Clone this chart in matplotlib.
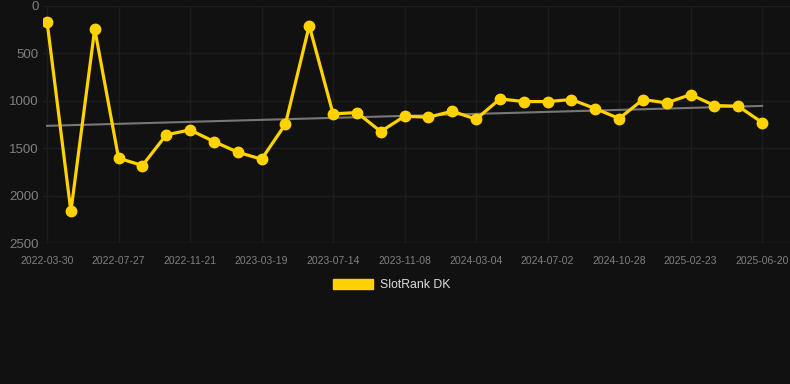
import numpy as np
import matplotlib.pyplot as plt
from matplotlib.patches import Patch

plt.rcParams['font.family'] = ['Liberation Sans', 'DejaVu Sans']

# Dane (ranking - mniejszy = lepszy)
dates = ['2022-03-30', '2022-05-08', '2022-06-17', '2022-07-27', '2022-09-04',
         '2022-10-13', '2022-11-21', '2022-12-30', '2023-02-08', '2023-03-19',
         '2023-04-27', '2023-06-05', '2023-07-14', '2023-08-22', '2023-09-30',
         '2023-11-08', '2023-12-17', '2024-01-25', '2024-03-04', '2024-04-13',
         '2024-05-23', '2024-07-02', '2024-08-10', '2024-09-18', '2024-10-28',
         '2024-12-06', '2025-01-14', '2025-02-23', '2025-04-03', '2025-05-12',
         '2025-06-20']
ranks = [165, 2167, 242, 1605, 1683, 1359, 1307, 1430, 1542, 1616,
         1247, 207, 1138, 1124, 1324, 1163, 1173, 1110, 1194, 980,
         1008, 1008, 987, 1082, 1187, 987, 1022, 934, 1050, 1057,
         1229]
trend_ends = [1264, 1054]
y_ticks = [0, 500, 1000, 1500, 2000, 2500]

bg = '#111111'
gold = '#FFD200'

x = np.arange(len(dates))

fig = plt.figure(figsize=(7.9, 3.84), dpi=100, facecolor=bg)
ax = fig.add_axes([43 / 790, 1 - 243 / 384, 1 - 43 / 790, (243 - 6) / 384])
ax.set_facecolor(bg)

# linia trendu
ax.plot([x[0], x[-1]], trend_ends, color='#777777', linewidth=1.5, zorder=2)

ax.plot(x, ranks, color=gold, linewidth=2.3, marker='o', markersize=7.5,
        markerfacecolor=gold, markeredgecolor=gold, zorder=3)

ax.set_ylim(2500, 0)
ax.set_xlim(-0.17, len(dates) - 1 + 1.17)
ax.set_yticks(y_ticks)
ax.set_xticks(x[::3])
ax.set_xticklabels(dates[::3])

ax.grid(True, color='#1d1d1d', linewidth=1)
for s in ax.spines.values():
    s.set_visible(False)
ax.axhline(2500, color='#282828', linewidth=1, zorder=1)
ax.tick_params(axis='y', colors='#808080', labelsize=9.5, length=0, pad=3)
ax.tick_params(axis='x', colors='#808080', labelsize=7.5, length=0, pad=9)

fig.legend(handles=[Patch(facecolor=gold, edgecolor=gold, label='SlotRank DK')],
           loc='center', bbox_to_anchor=(0.496, 1 - 285 / 384), frameon=False,
           handlelength=3.3, handleheight=0.9, handletextpad=0.6,
           fontsize=8.8, labelcolor='#dddddd')

fig.savefig('out.png', dpi=100, facecolor=bg)
